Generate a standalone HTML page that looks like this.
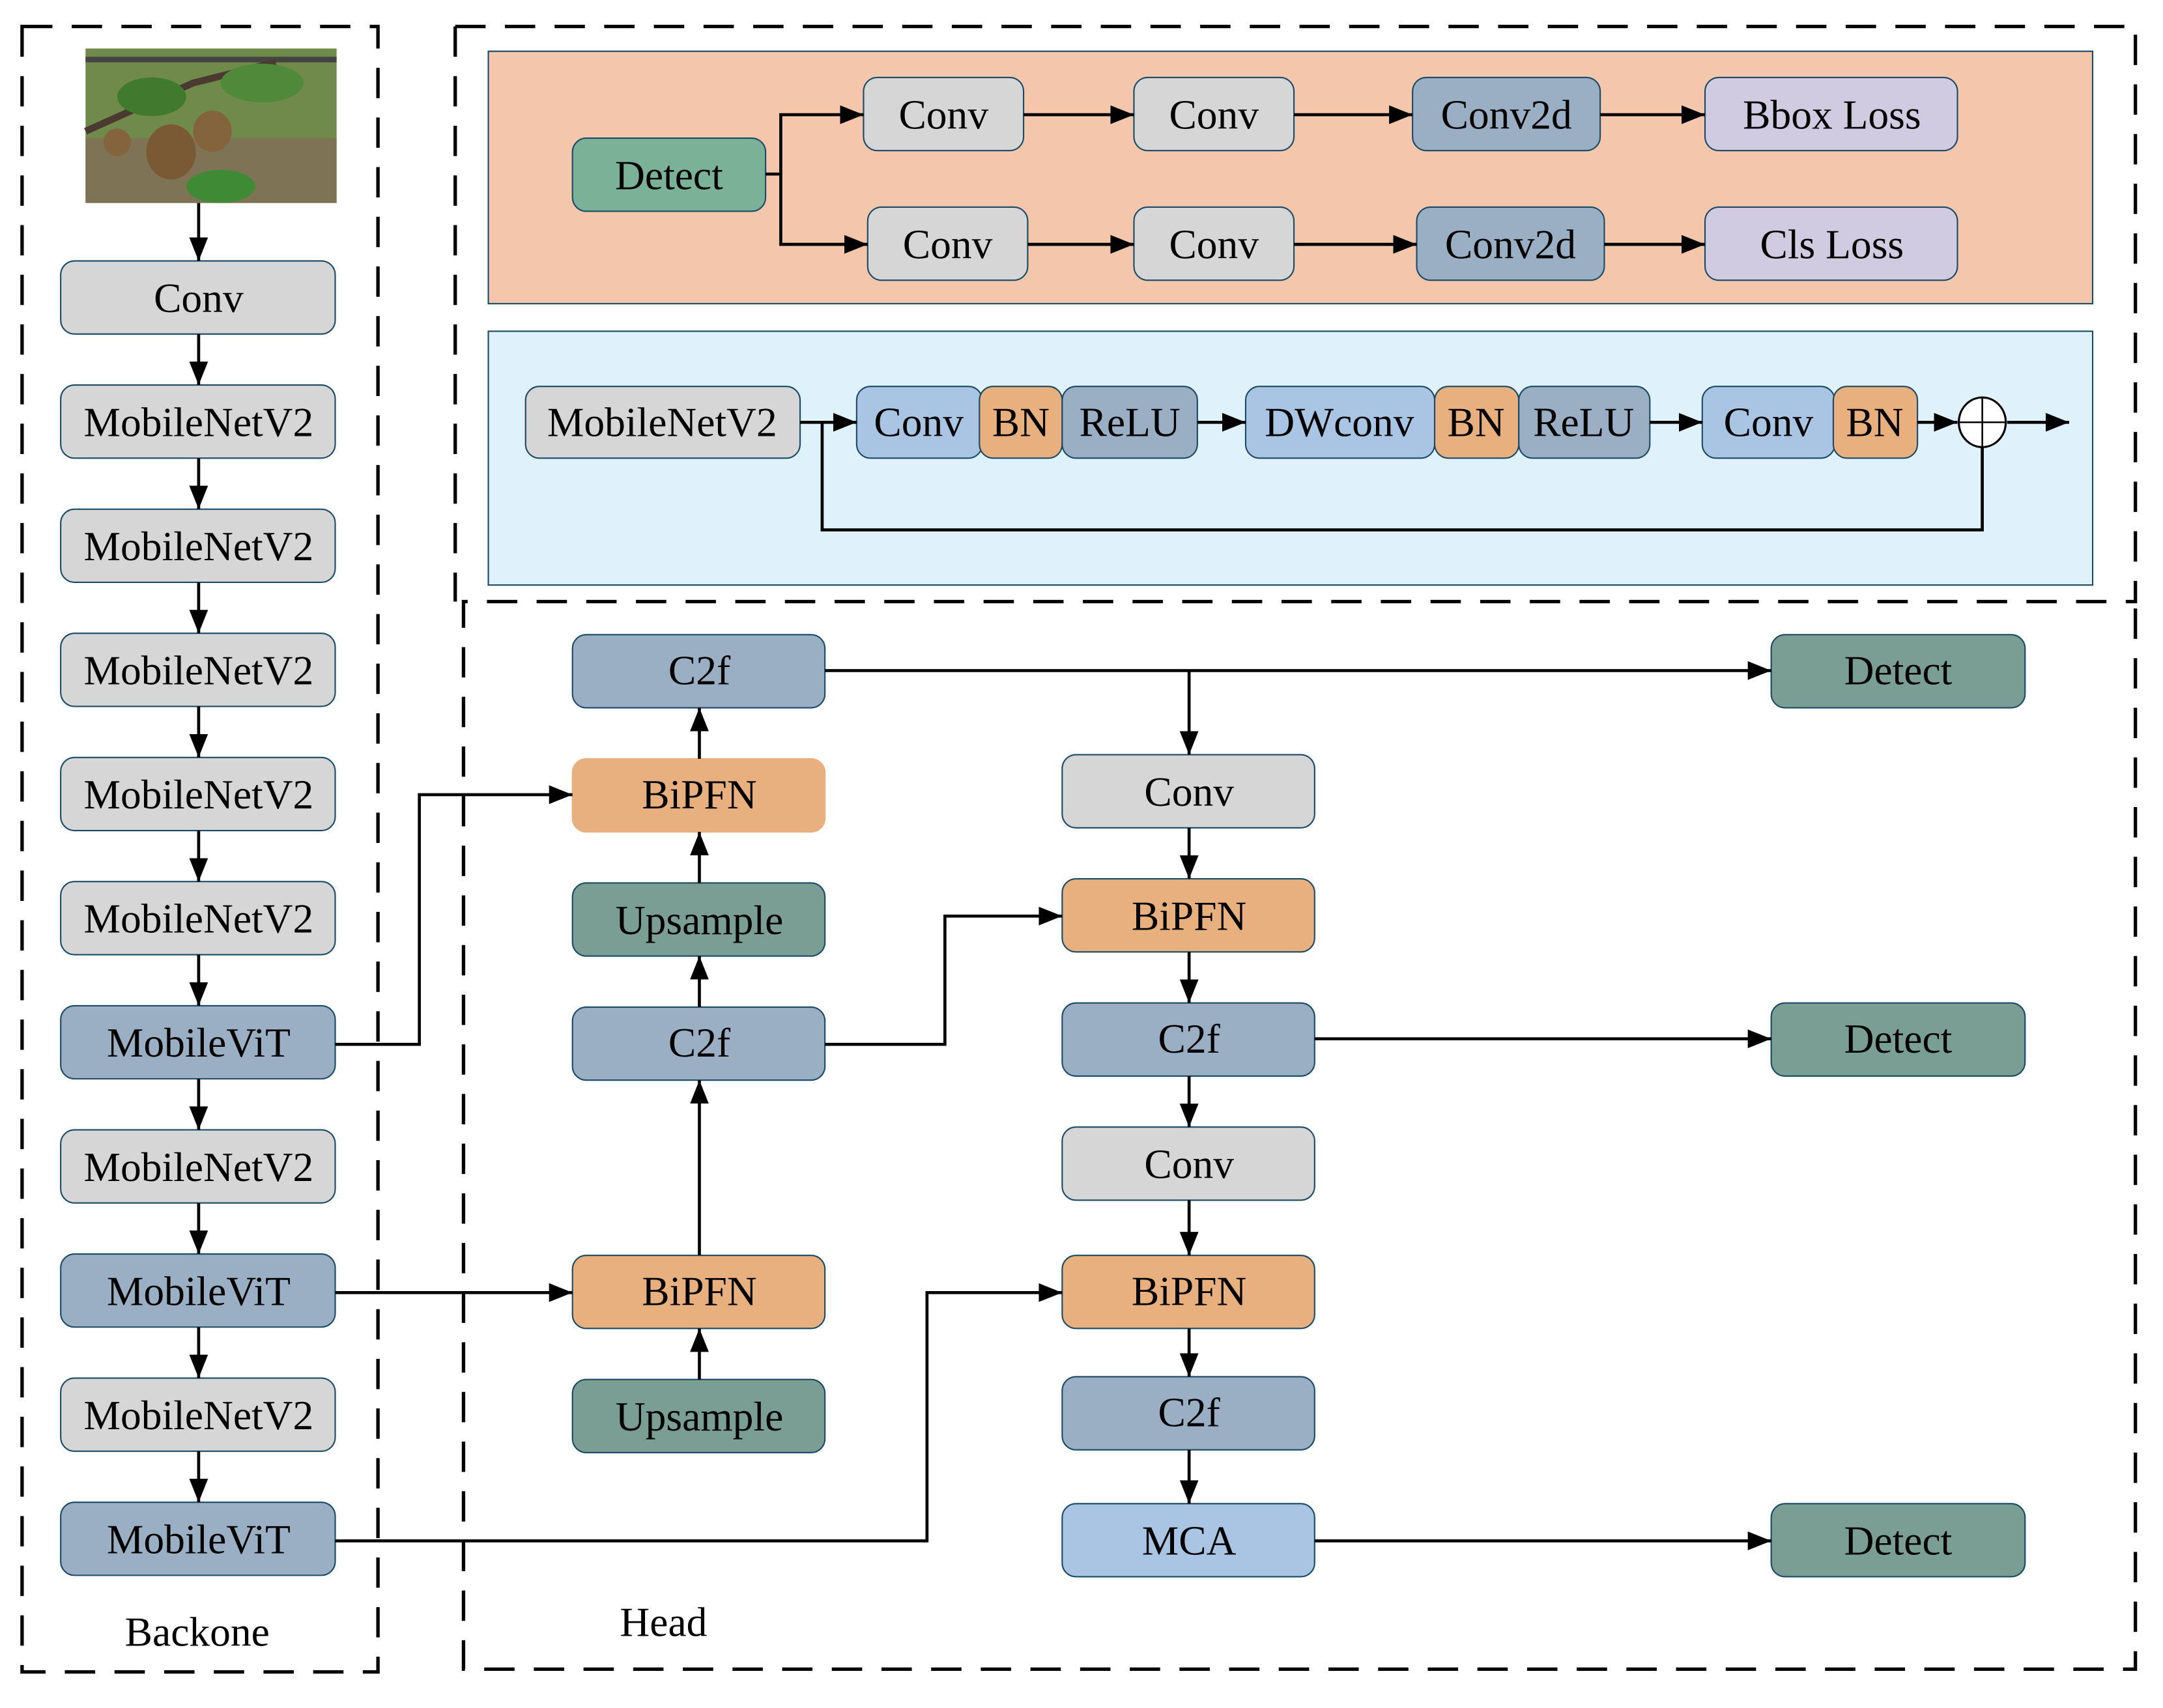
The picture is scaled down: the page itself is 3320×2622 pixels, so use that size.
<!DOCTYPE html>
<html><head><style>html,body{margin:0;padding:0;background:#fff}svg{display:block}</style></head><body>
<svg xmlns="http://www.w3.org/2000/svg" width="3320" height="2622" viewBox="0 0 1568 1238" font-family="'Liberation Serif',serif" font-size="30">
<defs>
<marker id="b" viewBox="0 0 10 10" refX="10" refY="5" markerWidth="17" markerHeight="17" markerUnits="userSpaceOnUse" orient="auto"><path d="M0,1L10,5L0,9z"/></marker>
</defs>
<rect width="1568" height="1238" fill="#fff"/>
<g fill="none" stroke="#000" stroke-width="2.5" stroke-dasharray="22,14">
<rect x="16" y="19" width="258" height="1193"/>
<path d="M330,19H1548V436H336V1210H1548V436"/>
<path d="M330,19V436"/>
</g>
<rect x="62" y="35" width="182" height="112" fill="#6f8a4a"/>
<rect x="62" y="100" width="182" height="47" fill="#7e7455"/>
<rect x="62" y="41" width="182" height="4" fill="#444"/>
<path d="M62,95 L140,60 L200,45" stroke="#4a3a30" stroke-width="5" fill="none"/>
<ellipse cx="110" cy="70" rx="25" ry="14" fill="#3f7a2e"/>
<ellipse cx="190" cy="60" rx="30" ry="14" fill="#4f8a3a"/>
<ellipse cx="160" cy="135" rx="25" ry="12" fill="#3f8a35"/>
<ellipse cx="124" cy="110" rx="18" ry="20" fill="#7a5a35"/>
<ellipse cx="154" cy="95" rx="14" ry="15" fill="#84643c"/>
<ellipse cx="85" cy="103" rx="10" ry="10" fill="#84643c"/>
<g stroke="#1a4a66" stroke-width="1">
<rect x="44" y="189" width="199" height="53" rx="10" fill="#d6d6d6"/>
<rect x="44" y="279" width="199" height="53" rx="10" fill="#d6d6d6"/>
<rect x="44" y="369" width="199" height="53" rx="10" fill="#d6d6d6"/>
<rect x="44" y="459" width="199" height="53" rx="10" fill="#d6d6d6"/>
<rect x="44" y="549" width="199" height="53" rx="10" fill="#d6d6d6"/>
<rect x="44" y="639" width="199" height="53" rx="10" fill="#d6d6d6"/>
<rect x="44" y="729" width="199" height="53" rx="10" fill="#9aafc4"/>
<rect x="44" y="819" width="199" height="53" rx="10" fill="#d6d6d6"/>
<rect x="44" y="909" width="199" height="53" rx="10" fill="#9aafc4"/>
<rect x="44" y="999" width="199" height="53" rx="10" fill="#d6d6d6"/>
<rect x="44" y="1089" width="199" height="53" rx="10" fill="#9aafc4"/>
<rect x="354" y="37" width="1163" height="183" fill="#f4c6ac"/>
<rect x="354" y="240" width="1163" height="184" fill="#dff2fb"/>
<rect x="415" y="100" width="140" height="53" rx="10" fill="#7bb197"/>
<rect x="626" y="56" width="116" height="53" rx="10" fill="#d6d6d6"/>
<rect x="822" y="56" width="116" height="53" rx="10" fill="#d6d6d6"/>
<rect x="1024" y="56" width="136" height="53" rx="10" fill="#9aafc4"/>
<rect x="1236" y="56" width="183" height="53" rx="10" fill="#d0cbe0"/>
<rect x="629" y="150" width="116" height="53" rx="10" fill="#d6d6d6"/>
<rect x="822" y="150" width="116" height="53" rx="10" fill="#d6d6d6"/>
<rect x="1027" y="150" width="136" height="53" rx="10" fill="#9aafc4"/>
<rect x="1236" y="150" width="183" height="53" rx="10" fill="#d0cbe0"/>
<rect x="381" y="280" width="199" height="52" rx="10" fill="#d6d6d6"/>
<rect x="621" y="280" width="91" height="52" rx="10" fill="#aac5e3"/>
<rect x="710" y="280" width="60" height="52" rx="10" fill="#e9b07f"/>
<rect x="770" y="280" width="98" height="52" rx="10" fill="#9aafc4"/>
<rect x="903" y="280" width="137" height="52" rx="10" fill="#aac5e3"/>
<rect x="1040" y="280" width="61" height="52" rx="10" fill="#e9b07f"/>
<rect x="1101" y="280" width="95" height="52" rx="10" fill="#9aafc4"/>
<rect x="1234" y="280" width="96" height="52" rx="10" fill="#aac5e3"/>
<rect x="1329" y="280" width="61" height="52" rx="10" fill="#e9b07f"/>
<rect x="415" y="460" width="183" height="53" rx="10" fill="#9aafc4"/>
<rect x="415" y="550" width="183" height="53" rx="10" fill="#e9b07f" stroke="#e9b07f"/>
<rect x="415" y="640" width="183" height="53" rx="10" fill="#7a9e93"/>
<rect x="415" y="730" width="183" height="53" rx="10" fill="#9aafc4"/>
<rect x="415" y="910" width="183" height="53" rx="10" fill="#e9b07f"/>
<rect x="415" y="1000" width="183" height="53" rx="10" fill="#7a9e93"/>
<rect x="770" y="547" width="183" height="53" rx="10" fill="#d6d6d6"/>
<rect x="770" y="637" width="183" height="53" rx="10" fill="#e9b07f"/>
<rect x="770" y="727" width="183" height="53" rx="10" fill="#9aafc4"/>
<rect x="770" y="817" width="183" height="53" rx="10" fill="#d6d6d6"/>
<rect x="770" y="910" width="183" height="53" rx="10" fill="#e9b07f"/>
<rect x="770" y="998" width="183" height="53" rx="10" fill="#9aafc4"/>
<rect x="770" y="1090" width="183" height="53" rx="10" fill="#aac5e3"/>
<rect x="1284" y="460" width="184" height="53" rx="10" fill="#7a9e93"/>
<rect x="1284" y="727" width="184" height="53" rx="10" fill="#7a9e93"/>
<rect x="1284" y="1090" width="184" height="53" rx="10" fill="#7a9e93"/>
</g>
<g fill="none" stroke="#000" stroke-width="2.2" marker-end="url(#b)">
<path d="M144,147V189"/><path d="M144,242V279"/><path d="M144,332V369"/><path d="M144,422V459"/><path d="M144,512V549"/><path d="M144,602V639"/><path d="M144,692V729"/><path d="M144,782V819"/><path d="M144,872V909"/><path d="M144,962V999"/><path d="M144,1052V1089"/>
<path d="M555,126H566V83H626"/><path d="M566,126V177H629"/>
<path d="M742,83H822"/><path d="M938,83H1024"/><path d="M1160,83H1236"/>
<path d="M745,177H822"/><path d="M938,177H1027"/><path d="M1163,177H1236"/>
<path d="M580,306H621"/><path d="M868,306H903"/><path d="M1196,306H1234"/><path d="M1390,306H1419"/><path d="M1455,306H1500"/>
<path d="M596,306V384H1437V324" marker-end="none"/>
<path d="M598,486H1284"/><path d="M862,486V547"/>
<path d="M507,550V513"/><path d="M507,640V603"/><path d="M507,730V693"/><path d="M507,910V783"/><path d="M507,1000V963"/>
<path d="M243,757H304V576H415"/><path d="M243,937H415"/><path d="M243,1117H672V937H770"/>
<path d="M598,757H685V664H770"/>
<path d="M862,600V637"/><path d="M862,690V727"/><path d="M862,780V817"/><path d="M862,870V910"/><path d="M862,963V998"/><path d="M862,1051V1090"/>
<path d="M953,753H1284"/><path d="M953,1117H1284"/>
</g>
<ellipse cx="1437" cy="306" rx="17" ry="18" fill="#fff" stroke="#000" stroke-width="1.5"/>
<path d="M1420,306H1454M1437,288V324" stroke="#000" stroke-width="1.2"/>
<g text-anchor="middle" fill="#000">
<text x="144" y="226">Conv</text>
<text x="144" y="316">MobileNetV2</text><text x="144" y="406">MobileNetV2</text><text x="144" y="496">MobileNetV2</text><text x="144" y="586">MobileNetV2</text><text x="144" y="676">MobileNetV2</text>
<text x="144" y="766">MobileViT</text><text x="144" y="856">MobileNetV2</text><text x="144" y="946">MobileViT</text><text x="144" y="1036">MobileNetV2</text><text x="144" y="1126">MobileViT</text>
<text x="143" y="1193">Backone</text>
<text x="485" y="137">Detect</text>
<text x="684" y="93">Conv</text><text x="880" y="93">Conv</text><text x="1092" y="93">Conv2d</text><text x="1328" y="93">Bbox Loss</text>
<text x="687" y="187">Conv</text><text x="880" y="187">Conv</text><text x="1095" y="187">Conv2d</text><text x="1328" y="187">Cls Loss</text>
<text x="480" y="316">MobileNetV2</text>
<text x="666" y="316">Conv</text><text x="740" y="316">BN</text><text x="819" y="316">ReLU</text>
<text x="971" y="316">DWconv</text><text x="1070" y="316">BN</text><text x="1148" y="316">ReLU</text>
<text x="1282" y="316">Conv</text><text x="1359" y="316">BN</text>
<text x="507" y="496">C2f</text><text x="507" y="586">BiPFN</text><text x="507" y="677">Upsample</text><text x="507" y="766">C2f</text><text x="507" y="946">BiPFN</text><text x="507" y="1037">Upsample</text>
<text x="862" y="584">Conv</text><text x="862" y="674">BiPFN</text><text x="862" y="763">C2f</text><text x="862" y="854">Conv</text><text x="862" y="946">BiPFN</text><text x="862" y="1034">C2f</text><text x="862" y="1127">MCA</text>
<text x="1376" y="496">Detect</text><text x="1376" y="763">Detect</text><text x="1376" y="1127">Detect</text>
<text x="481" y="1186">Head</text>
</g>
</svg>
</body></html>
